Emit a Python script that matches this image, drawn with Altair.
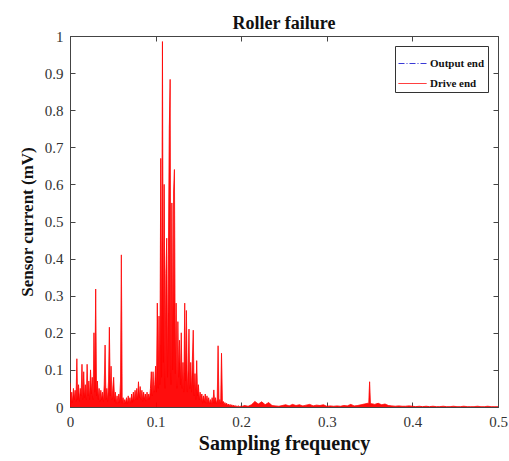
import altair as alt
import pandas as pd

# ---------------- data ----------------
series_names = ["Output end", "Drive end"]
series_colors = ["#3a3ad6", "#ff0000"]
series_dashes = [[6, 2, 1, 2], [1, 0]]
x_tick_values = [0, 0.1, 0.2, 0.3, 0.4, 0.5]
y_tick_values = [0, 0.1, 0.2, 0.3, 0.4, 0.5, 0.6, 0.7, 0.8, 0.9, 1]

freq_low = [
    0.000, 0.001, 0.002, 0.003, 0.004, 0.005, 0.006, 0.007, 0.008, 0.009,
    0.010, 0.011, 0.012, 0.013, 0.014, 0.015, 0.016, 0.017, 0.018, 0.019,
    0.020, 0.021, 0.022, 0.023, 0.024, 0.025, 0.026, 0.027, 0.028, 0.029,
    0.030, 0.031, 0.032, 0.033, 0.034, 0.035, 0.036, 0.037, 0.038, 0.039,
    0.040, 0.041, 0.042, 0.043, 0.044, 0.045, 0.046, 0.047, 0.048, 0.049,
    0.050, 0.051, 0.052, 0.053, 0.054, 0.055, 0.056, 0.057, 0.058, 0.059,
    0.060, 0.061, 0.062, 0.063, 0.064, 0.065, 0.066, 0.067, 0.068, 0.069,
    0.070, 0.071, 0.072, 0.073, 0.074, 0.075, 0.076, 0.077, 0.078, 0.079,
    0.080, 0.081, 0.082, 0.083, 0.084, 0.085, 0.086, 0.087, 0.088, 0.089,
    0.090, 0.091, 0.092, 0.093, 0.094, 0.095, 0.096, 0.097, 0.098, 0.099,
    0.100, 0.101, 0.102, 0.103, 0.104, 0.105, 0.106, 0.107, 0.108, 0.109,
    0.110, 0.111, 0.112, 0.113, 0.114, 0.115, 0.116, 0.117, 0.118, 0.119,
    0.120, 0.121, 0.122, 0.123, 0.124, 0.125, 0.126, 0.127, 0.128, 0.129,
    0.130, 0.131, 0.132, 0.133, 0.134, 0.135, 0.136, 0.137, 0.138, 0.139,
    0.140, 0.141, 0.142, 0.143, 0.144, 0.145, 0.146, 0.147, 0.148, 0.149,
    0.150, 0.151, 0.152, 0.153, 0.154, 0.155, 0.156, 0.157, 0.158, 0.159,
    0.160, 0.161, 0.162, 0.163, 0.164, 0.165, 0.166, 0.167, 0.168, 0.169,
    0.170, 0.171, 0.172, 0.173, 0.174, 0.175, 0.176, 0.177, 0.178, 0.179,
    0.180, 0.181, 0.182, 0.183, 0.184, 0.185, 0.186, 0.187, 0.188, 0.189,
    0.190, 0.191, 0.192, 0.193, 0.194, 0.195, 0.196, 0.197, 0.198, 0.199,
    0.200,
]
amp_low = [
    0.065, 0.010, 0.040, 0.012, 0.050, 0.020, 0.045, 0.015, 0.130, 0.020,
    0.060, 0.015, 0.050, 0.030, 0.115, 0.020, 0.095, 0.025, 0.060, 0.020,
    0.115, 0.030, 0.070, 0.020, 0.100, 0.035, 0.080, 0.020, 0.200, 0.040,
    0.318, 0.030, 0.070, 0.020, 0.050, 0.015, 0.045, 0.020, 0.040, 0.015,
    0.060, 0.167, 0.020, 0.050, 0.015, 0.070, 0.215, 0.030, 0.110, 0.020,
    0.050, 0.080, 0.015, 0.040, 0.010, 0.030, 0.010, 0.035, 0.012, 0.070,
    0.410, 0.010, 0.025, 0.008, 0.020, 0.010, 0.025, 0.008, 0.030, 0.012,
    0.025, 0.010, 0.035, 0.012, 0.040, 0.015, 0.045, 0.020, 0.050, 0.020,
    0.068, 0.025, 0.055, 0.020, 0.045, 0.015, 0.040, 0.020, 0.035, 0.015,
    0.040, 0.020, 0.035, 0.020, 0.050, 0.095, 0.030, 0.095, 0.040, 0.060,
    0.110, 0.040, 0.280, 0.050, 0.245, 0.060, 0.670, 0.080, 0.985, 0.120,
    0.600, 0.050, 0.360, 0.455, 0.080, 0.410, 0.750, 0.883, 0.060, 0.550,
    0.100, 0.580, 0.640, 0.090, 0.280, 0.050, 0.230, 0.080, 0.180, 0.060,
    0.200, 0.050, 0.120, 0.040, 0.280, 0.070, 0.260, 0.040, 0.100, 0.210,
    0.050, 0.120, 0.040, 0.130, 0.207, 0.030, 0.090, 0.020, 0.125, 0.030,
    0.060, 0.020, 0.040, 0.015, 0.035, 0.010, 0.030, 0.012, 0.035, 0.010,
    0.030, 0.010, 0.025, 0.008, 0.020, 0.008, 0.025, 0.010, 0.046, 0.010,
    0.025, 0.008, 0.020, 0.165, 0.010, 0.020, 0.008, 0.145, 0.010, 0.015,
    0.006, 0.012, 0.005, 0.010, 0.004, 0.008, 0.003, 0.007, 0.003, 0.006,
    0.002, 0.005, 0.002, 0.004, 0.001, 0.003, 0.001, 0.003, 0.001, 0.002,
    0.001,
]

freq_high = [
    0.204, 0.208, 0.212, 0.216, 0.220, 0.224, 0.228, 0.232, 0.236, 0.240,
    0.244, 0.248, 0.252, 0.256, 0.260, 0.264, 0.268, 0.272, 0.276, 0.280,
    0.284, 0.288, 0.292, 0.296, 0.300, 0.304, 0.308, 0.312, 0.316, 0.320,
    0.324, 0.328, 0.332, 0.336, 0.340, 0.344, 0.348, 0.349, 0.350, 0.351,
    0.352, 0.356,
    0.360, 0.364, 0.368, 0.372, 0.376, 0.380, 0.384, 0.388, 0.392, 0.396,
    0.400, 0.404, 0.408, 0.412, 0.416, 0.420, 0.424, 0.428, 0.432, 0.436,
    0.440, 0.444, 0.448, 0.452, 0.456, 0.460, 0.464, 0.468, 0.472, 0.476,
    0.480, 0.484, 0.488, 0.492, 0.496, 0.500,
]
amp_high = [
    0.004, 0.002, 0.006, 0.015, 0.008, 0.014, 0.006, 0.012, 0.004, 0.003,
    0.002, 0.004, 0.006, 0.003, 0.007, 0.004, 0.006, 0.003, 0.005, 0.007,
    0.003, 0.005, 0.004, 0.006, 0.002, 0.003, 0.002, 0.003, 0.002, 0.004,
    0.003, 0.007, 0.003, 0.004, 0.006, 0.008, 0.010, 0.008, 0.068, 0.008,
    0.009, 0.007,
    0.010, 0.006, 0.008, 0.004, 0.003, 0.002, 0.003, 0.002, 0.002, 0.003,
    0.002, 0.001, 0.002, 0.001, 0.002, 0.001, 0.002, 0.001, 0.001, 0.002,
    0.001, 0.001, 0.002, 0.001, 0.001, 0.002, 0.001, 0.001, 0.001, 0.002,
    0.001, 0.001, 0.002, 0.001, 0.001, 0.001,
]

df = pd.DataFrame({"freq": freq_low + freq_high, "amp": amp_low + amp_high})
df["series"] = series_names[1]

# ---------------- chart ----------------
serif = "Liberation Serif"
inward = alt.ExprRef(expr="-5")

x_scale = alt.Scale(domain=[0, 0.5], nice=False, zero=False)
y_scale = alt.Scale(domain=[0, 1], nice=False)
color_scale = alt.Scale(domain=series_names, range=series_colors)
dash_scale = alt.Scale(domain=series_names, range=series_dashes)

legend = alt.Legend(
    title=None, orient="none", legendX=325, legendY=10, direction="vertical",
    symbolType="stroke", symbolSize=784, symbolStrokeWidth=1,
    symbolDash=alt.ExprRef(expr="scale('strokeDash', datum.value)"),
    symbolStrokeColor=alt.ExprRef(expr="scale('color', datum.value)"),
    labelFont=serif, labelFontSize=11, labelFontWeight="bold", labelColor="#111",
    strokeColor="#333", fillColor="white", padding=3, rowPadding=-8, labelOffset=3,
)

main = alt.Chart(df).mark_line(strokeWidth=0.9, clip=True).encode(
    x=alt.X("freq:Q", scale=x_scale, axis=alt.Axis(
        title="Sampling frequency", orient="bottom", values=x_tick_values, format="~g",
        tickSize=inward, labelPadding=12, titlePadding=4, labelFlush=False,
        titleFontSize=20)),
    y=alt.Y("amp:Q", scale=y_scale, axis=alt.Axis(
        title="Sensor current (mV)", orient="left", values=y_tick_values, format="~g",
        tickSize=inward, labelPadding=12, titlePadding=8, labelFlush=False)),
    color=alt.Color("series:N", scale=color_scale, legend=legend),
    strokeDash=alt.StrokeDash("series:N", scale=dash_scale, legend=None),
)

fill = alt.Chart(df).mark_area(opacity=0.95, clip=True).encode(
    x=alt.X("freq:Q", scale=x_scale, axis=None),
    y=alt.Y("amp:Q", scale=y_scale, axis=None),
    color=alt.Color("series:N", scale=color_scale, legend=None),
)

frame = alt.Chart(df).mark_line(opacity=0).encode(
    x=alt.X("freq:Q", scale=x_scale, axis=alt.Axis(
        orient="top", values=x_tick_values, labels=False, title=None, tickSize=inward, domain=False)),
    y=alt.Y("amp:Q", scale=y_scale, axis=alt.Axis(
        orient="right", values=y_tick_values, labels=False, title=None, tickSize=inward, domain=False)),
)

chart = alt.layer(main, fill, frame).resolve_axis(x="independent", y="independent").properties(
    width=428, height=371,
    title=alt.TitleParams(text="Roller failure", font=serif, fontSize=18, fontWeight="bold",
                          color="#111", anchor="middle", offset=-4),
    autosize=alt.AutoSizeParams(type="none"),
    padding={"left": 70, "top": 36, "right": 11, "bottom": 54},
).configure_view(stroke="#444", strokeWidth=1).configure_axis(
    grid=False, domainColor="#444", tickColor="#444",
    labelFont=serif, labelFontSize=15, labelColor="#333",
    titleFont=serif, titleFontSize=17, titleFontWeight="bold", titleColor="#111",
)

chart.save("out.html", embed_options={"renderer": "svg", "actions": False})
